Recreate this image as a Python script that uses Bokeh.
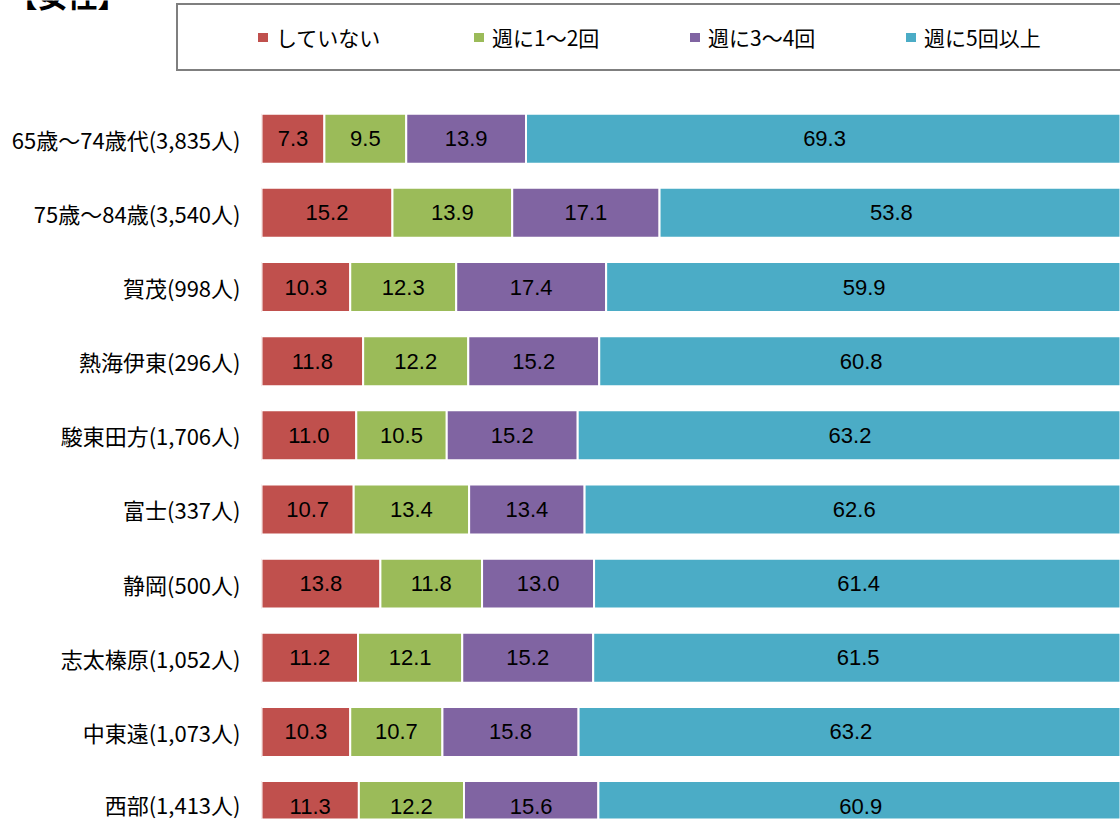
from bokeh.plotting import figure
from bokeh.layouts import column
from bokeh.models import (ColumnDataSource, Range1d, FixedTicker, Legend,
                          LegendItem, Label)
from bokeh.embed import file_html
from bokeh.resources import INLINE
from bokeh.core.properties import value

# ---------------- data ----------------
title_text = "【女性】"
regions = ["65歳～74歳代(3,835人)", "75歳～84歳(3,540人)", "賀茂(998人)",
           "熱海伊東(296人)", "駿東田方(1,706人)", "富士(337人)", "静岡(500人)",
           "志太榛原(1,052人)", "中東遠(1,073人)", "西部(1,413人)"]
series = ["していない", "週に1～2回", "週に3～4回", "週に5回以上"]
not_at_all = [7.3, 15.2, 10.3, 11.8, 11.0, 10.7, 13.8, 11.2, 10.3, 11.3]
one_two = [9.5, 13.9, 12.3, 12.2, 10.5, 13.4, 11.8, 12.1, 10.7, 12.2]
three_four = [13.9, 17.1, 17.4, 15.2, 15.2, 13.4, 13.0, 15.2, 15.8, 15.6]
five_plus = [69.3, 53.8, 59.9, 60.8, 63.2, 62.6, 61.4, 61.5, 63.2, 60.9]
colors = ["#C0504D", "#9BBB59", "#8064A2", "#4BACC6"]

values = [not_at_all, one_two, three_four, five_plus]
n = len(regions)
ys = [n - 1 - i for i in range(n)]

JP = "Noto Sans CJK JP"
W = 1120
HEAD_H = 80
MAIN_H = 739
BAR_H = 0.674

data = {"y": ys}
for s, v in zip(series, values):
    data[s] = v
src = ColumnDataSource(data)

# ---------------- header (title + legend) ----------------
head = figure(width=W, height=HEAD_H, output_backend="svg", toolbar_location=None,
              x_range=Range1d(0, 1), y_range=Range1d(100, 101),
              x_axis_location=None, y_axis_location=None,
              min_border_left=0, min_border_right=0, min_border_top=0,
              min_border_bottom=0, title=None)
head.outline_line_color = None
head.xgrid.visible = False
head.ygrid.visible = False
try:
    head.frame_align = False
except Exception:
    pass

# legend-key renderers (same data, outside the header's visible range)
key_rends = head.hbar_stack(series, y="y", height=BAR_H, color=colors,
                            source=src, line_color="white", line_width=2)

items = [LegendItem(label=s, renderers=[r]) for s, r in zip(series, key_rends)]
legend = Legend(items=items, orientation="horizontal", location=(176, HEAD_H - 71),
                padding=17, spacing=10, glyph_width=15, glyph_height=14,
                label_standoff=6, label_width=185, label_height=21,
                label_text_font=JP, label_text_font_size="21px",
                label_text_color="black", label_text_baseline="alphabetic",
                border_line_color="black", border_line_width=2,
                title=" ", title_location="left", title_text_font_size="1px",
                title_standoff=59, background_fill_color="white",
                background_fill_alpha=1.0, margin=0)
head.add_layout(legend, "center")

head.add_layout(Label(x=7, y=HEAD_H - 15, x_units="screen", y_units="screen",
                      text=title_text, text_font=JP, text_font_size="30px",
                      text_font_style="bold", text_baseline="bottom",
                      text_color="black"))

# ---------------- main bars ----------------
p = figure(width=W, height=MAIN_H, output_backend="svg", toolbar_location=None,
           x_range=Range1d(0, 99.7), y_range=Range1d(-0.181, 9.785),
           x_axis_location=None, min_border_left=261, min_border_right=0,
           min_border_top=0, min_border_bottom=0, title=None)
p.outline_line_color = None
p.xgrid.visible = False
p.ygrid.visible = False
try:
    p.frame_align = False
except Exception:
    pass

p.hbar_stack(series, y="y", height=BAR_H, color=colors, source=src,
             line_color="white", line_width=2)

lx, ly, lt = [], [], []
for i in range(n):
    cum = 0.0
    for v in values:
        lx.append(cum + v[i] / 2.0)
        ly.append(ys[i])
        lt.append(f"{v[i]:.1f}")
        cum += v[i]
p.text(x="x", y="y", text="t",
       source=ColumnDataSource(dict(x=lx, y=ly, t=lt)),
       text_align="center", text_baseline="middle",
       text_font=value("Liberation Sans"), text_font_size="22px",
       text_color="black")

ax = p.yaxis[0]
ax.ticker = FixedTicker(ticks=ys)
ax.major_label_overrides = {y: r for y, r in zip(ys, regions)}
ax.axis_line_color = None
ax.major_tick_line_color = None
ax.minor_tick_line_color = None
ax.major_tick_out = 0
ax.major_tick_in = 0
ax.major_label_standoff = 21
ax.major_label_text_font = JP
ax.major_label_text_font_size = "22px"
ax.major_label_text_color = "black"

layout = column(head, p, spacing=0)
open("out.html", "w").write(file_html(layout, INLINE))
